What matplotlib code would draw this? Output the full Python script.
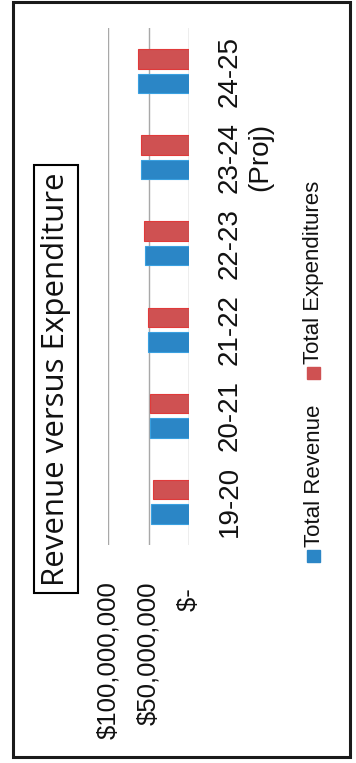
import numpy as np
import matplotlib
matplotlib.use("Agg")
from matplotlib import pyplot as plt
from matplotlib import font_manager
from matplotlib.patches import Rectangle

# school years and totals (dollars)
years = ["19-20", "20-21", "21-22", "22-23", "23-24\n(Proj)", "24-25"]
total_revenue = [47e6, 48e6, 51e6, 54e6, 59e6, 63e6]
total_expenditures = [45e6, 48e6, 51e6, 55e6, 59e6, 63e6]
value_ticks = [0, 50e6, 100e6]
value_labels = ["$- ", "$50,000,000", "$100,000,000"]

blue = "#2b86c6"
red = "#cf5152"

installed = {f.name for f in font_manager.fontManager.ttflist}
narrow = "Liberation Sans Narrow" if "Liberation Sans Narrow" in installed else "Liberation Sans"
plt.rcParams["font.family"] = ["Liberation Sans", "DejaVu Sans"]

W, H = 356, 763
fig = plt.figure(figsize=(W / 100, H / 100), dpi=100)


def fx(px):
    return px / W


def fy(py):
    return 1 - py / H


# outer frame
fig.patches.append(Rectangle((fx(13), fy(757)), fx(350) - fx(13), fy(2) - fy(757),
                             transform=fig.transFigure, fill=False, lw=2.2,
                             ec="#1a1a1a"))

# chart is laid out sideways: value axis runs right-to-left, years bottom-to-top
ax = fig.add_axes([fx(108), fy(545), fx(189) - fx(108), fy(28) - fy(545)])
y = np.arange(len(years))
off, h = 0.142, 0.226
ax.barh(y - off, total_revenue, height=h, color=blue, edgecolor="#3aa0e0", lw=0.8, zorder=3)
ax.barh(y + off, total_expenditures, height=h, color=red, edgecolor="#e03a3a", lw=0.8, zorder=3)

ax.set_xlim(100e6, 0)
ax.set_ylim(-0.5, len(years) - 0.5)
ax.set_xticks(value_ticks)
ax.set_xticklabels(value_labels, rotation=90, fontsize=18.5, family=narrow, color="#111111")
ax.set_yticks(y)
ax.set_yticklabels(years, rotation=90, fontsize=20, family=narrow, color="#111111",
                   va="center", ha="left", multialignment="center")
ax.yaxis.tick_right()
ax.tick_params(axis="x", length=0, pad=26)
ax.tick_params(axis="y", length=0, pad=20)
ax.grid(axis="x", color="#a8a8a8", lw=1.0, zorder=0)
for s in ax.spines.values():
    s.set_visible(False)

# title in a box
fig.text(fx(56), fy(379), "Revenue versus Expenditure", rotation=90,
         ha="center", va="center", fontsize=22.5, family=["Open Sans", "DejaVu Sans"],
         color="#111111",
         bbox=dict(boxstyle="square,pad=0.22", fc="white", ec="black", lw=1.5))

# legend
for py0, color, label in [(562, blue, "Total Revenue"), (379, red, "Total Expenditures")]:
    fig.patches.append(Rectangle((fx(307), fy(py0)), fx(13), fy(0) - fy(12),
                                 transform=fig.transFigure, color=color))
    fig.text(fx(314), fy(py0 - 15), label, rotation=90, ha="center", va="bottom",
             fontsize=16, family=narrow, color="#111111")

fig.savefig("out.png", dpi=100)
